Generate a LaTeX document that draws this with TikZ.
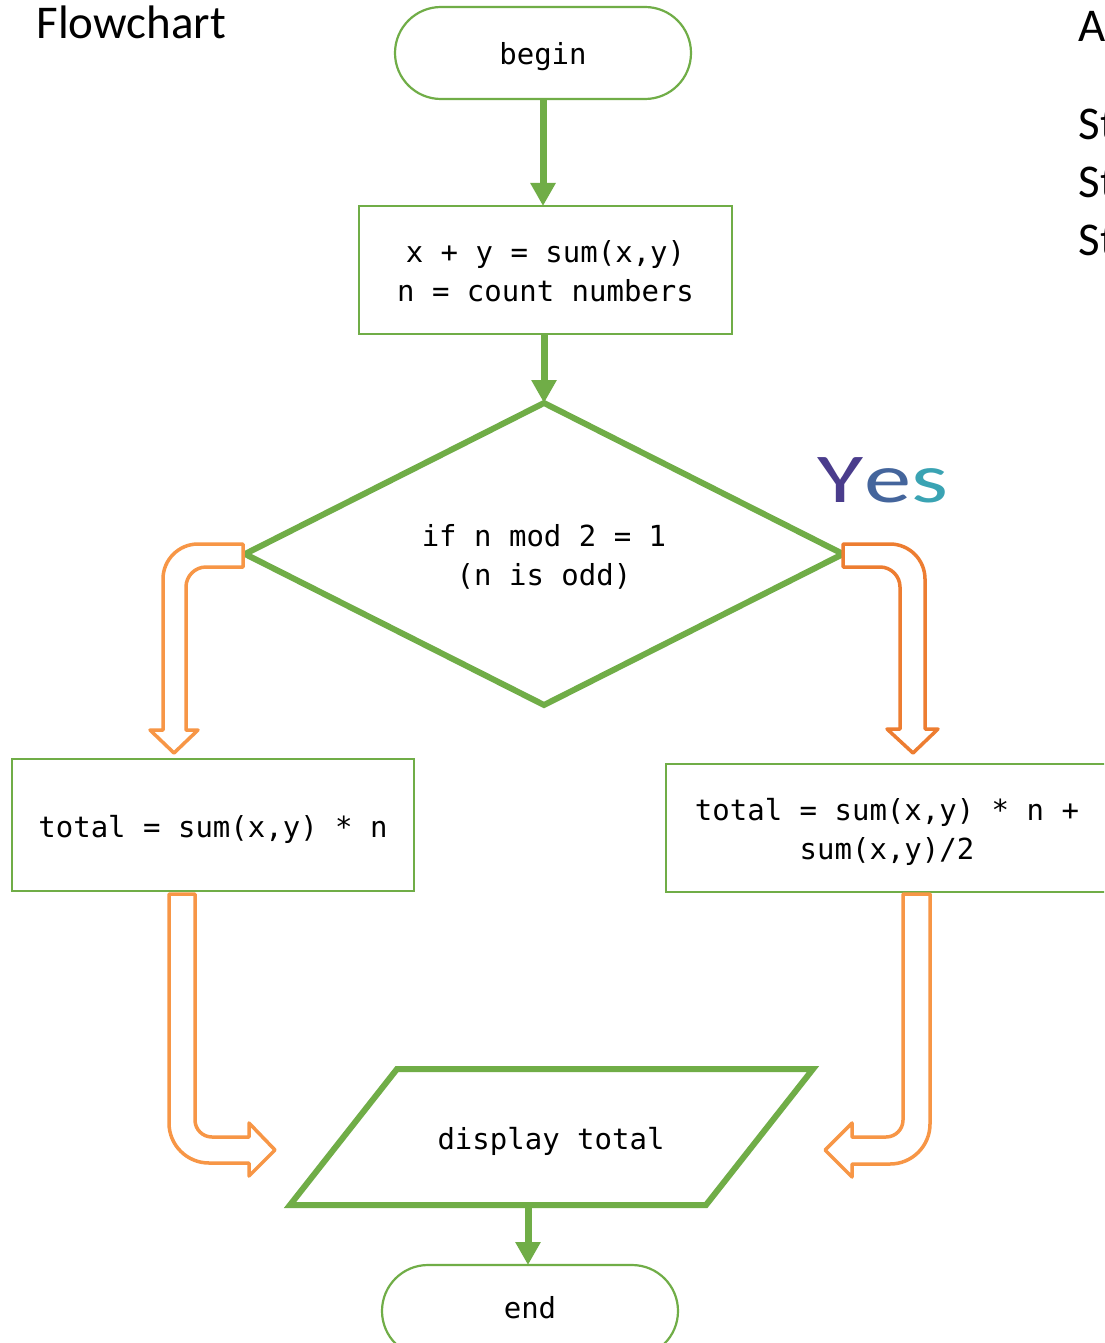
\documentclass[tikz,border=0pt]{standalone}
\usepackage{fontspec}
\setmainfont{Carlito}
\setmonofont{DejaVu Sans Mono}
\usetikzlibrary{shapes.geometric,arrows.meta}
\definecolor{fgreen}{HTML}{70AD47}
\definecolor{forange}{HTML}{F79646}
\definecolor{forangeb}{HTML}{ED7D31}
\definecolor{ypurple}{HTML}{4A3C8C}
\definecolor{yteal}{HTML}{3AA3B3}
\begin{document}
\begin{tikzpicture}[x=1pt,y=-1pt,
  mono/.style={font=\fontsize{29}{39}\selectfont\ttfamily, align=center, text=black},
  thinbox/.style={draw=fgreen, line width=2.2pt, fill=white, inner sep=0pt, outer sep=0pt},
  stadium/.style={thinbox, rounded corners=46pt, minimum width=296pt, minimum height=92pt},
  garrow/.style={draw=fgreen, line width=7pt, -{Triangle[width=24pt,length=23pt]}},
  oarrow/.style={draw=forange, line width=3.5pt, fill=white, line join=round},
  oarrowb/.style={oarrow, draw=forangeb},
  heading/.style={anchor=base west, font=\fontsize{47}{47}\selectfont, text=black}]
\useasboundingbox (0,0) rectangle (1104,1343);
\clip (0,0) rectangle (1104,1343);
\fill[white] (0,0) rectangle (1104,1343);

% headings
\node[heading] (title) at (33,39) {Flowchart};
\node[heading] (ra) at (1075,42) {A};
\node[heading] (s1) at (1075,140) {St};
\node[heading] (s2) at (1075,197) {St};
\node[heading] (s3) at (1075,255) {St};

% nodes
\node[stadium, label={[mono,yshift=-4pt]center:begin}] (start) at (543,53) {};
\node[thinbox, minimum width=373pt, minimum height=128pt,
      label={[mono,yshift=-1.5pt]center:x + y = sum(x,y)\\n = count numbers}] (box1) at (545.5,270) {};
\node[draw=fgreen, line width=6pt, diamond, aspect=2, minimum width=598pt, minimum height=302pt,
      inner sep=0pt, outer sep=0pt, line join=miter,
      label={[mono,yshift=-3pt]center:if n mod 2 = 1\\(n is odd)}] (dia) at (544,554) {};
\node[thinbox, minimum width=402pt, minimum height=132pt,
      label={[mono,yshift=-4pt]center:total = sum(x,y) * n}] (lbox) at (213,825) {};
\node[thinbox, minimum width=442pt, minimum height=128pt,
      label={[mono,yshift=-3.5pt]center:total = sum(x,y) * n +\\sum(x,y)/2}] (rbox) at (887,828) {};
\draw[fgreen, line width=6pt, line join=miter] (397,1069) -- (813,1069) -- (706,1205) -- (290,1205) -- cycle;
\node[mono] (disp) at (551,1141) {display total};
\coordinate (pbot) at (528,1205);
\node[stadium, label={[mono,yshift=3.5pt]center:end}] (stop) at (530,1311) {};

% Yes
\node[font=\fontsize{70}{70}\selectfont, xscale=1.35, transform shape] (yes) at (883,480)
  {{\color{ypurple}Y}{\color{ypurple!60!yteal}e}{\color{yteal}s}};

% green connectors
\draw[garrow] (start.south) -- (start.south |- box1.north);
\draw[garrow] (box1.south -| dia.north) -- (dia.north);
\draw[garrow] (pbot) -- (pbot |- stop.north);

% orange block arrows
\draw[oarrow] (243,544) -- (198,544) .. controls (178.7,544) and (163,559.7) .. (163,579)
  -- (163,730) -- (150,730) -- (174,753) -- (198,730) -- (186,730) -- (186,587)
  .. controls (186,576) and (195,567) .. (206,567) -- (243,567) -- cycle;
\draw[oarrowb] (843,544) -- (890,544) .. controls (909.3,544) and (925,559.7) .. (925,579)
  -- (925,729) -- (938,729) -- (913,753) -- (887,729) -- (900,729) -- (900,587)
  .. controls (900,576) and (891,567) .. (880,567) -- (843,567) -- cycle;
\draw[oarrow] (169,894) -- (195,894) -- (195,1120) .. controls (195,1129.4) and (202.6,1137) .. (212,1137)
  -- (249,1137) -- (249,1123) -- (275,1150) -- (249,1176) -- (249,1163) -- (209,1163)
  .. controls (186.9,1163) and (169,1145.1) .. (169,1123) -- cycle;
\draw[oarrow] (903,894) -- (930,894) -- (930,1124) .. controls (930,1146.1) and (912.1,1164) .. (890,1164)
  -- (852,1164) -- (852,1177) -- (825,1150) -- (852,1123) -- (852,1137) -- (886,1137)
  .. controls (895.4,1137) and (903,1129.4) .. (903,1120) -- cycle;
\end{tikzpicture}
\end{document}
